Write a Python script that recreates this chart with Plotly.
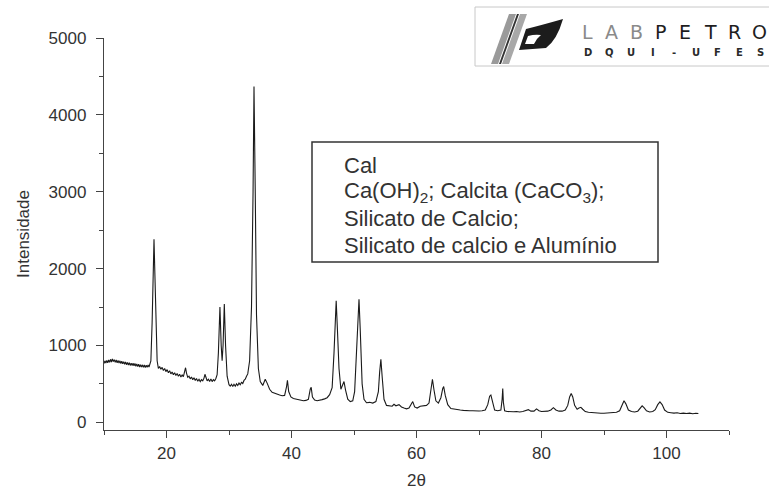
import plotly.graph_objects as go

# ---- data (2theta, intensity) ----
two_theta = [
    10.0, 10.15, 10.3, 10.45, 10.6, 10.75, 10.9, 11.05, 11.2, 11.35, 11.5, 11.65, 11.8, 11.95, 12.1,
    12.25, 12.4, 12.55, 12.7, 12.85, 13.0, 13.15, 13.3, 13.45, 13.6, 13.75, 13.9, 14.05, 14.2, 14.35,
    14.5, 14.65, 14.8, 14.95, 15.1, 15.25, 15.4, 15.55, 15.7, 15.85, 16.0, 16.15, 16.3, 16.45, 16.6,
    16.75, 16.9, 17.05, 17.2, 17.35, 17.5, 17.7, 17.85, 18.0, 18.15, 18.3, 18.5, 18.7, 18.9, 19.1,
    19.3, 19.5, 19.7, 19.9, 20.1, 20.3, 20.5, 20.7, 20.9, 21.1, 21.3, 21.5, 21.7, 21.9, 22.1,
    22.3, 22.5, 22.7, 22.9, 23.05, 23.2, 23.4, 23.6, 23.8, 24.0, 24.2, 24.4, 24.6, 24.8, 25.0,
    25.2, 25.4, 25.6, 25.8, 26.0, 26.15, 26.3, 26.5, 26.7, 26.9, 27.1, 27.3, 27.5, 27.7, 27.9,
    28.1, 28.3, 28.55, 28.75, 28.9, 29.05, 29.25, 29.45, 29.7, 30.0, 30.2, 30.4, 30.6, 30.8, 31.0,
    31.2, 31.4, 31.6, 31.8, 32.0, 32.2, 32.4, 32.6, 32.8, 33.0, 33.3, 33.6, 33.85, 34.0, 34.2,
    34.4, 34.7, 35.0, 35.4, 35.8, 36.1, 36.5, 36.9, 37.3, 37.7, 38.1, 38.5, 38.9, 39.2, 39.35,
    39.55, 39.9, 40.3, 40.7, 41.1, 41.5, 41.9, 42.3, 42.7, 43.0, 43.15, 43.35, 43.7, 44.1, 44.5,
    44.9, 45.3, 45.7, 46.1, 46.5, 46.8, 47.0, 47.15, 47.35, 47.6, 47.9, 48.2, 48.4, 48.65, 49.0,
    49.4, 49.8, 50.1, 50.4, 50.65, 50.8, 51.0, 51.3, 51.6, 52.0, 52.5, 53.0, 53.5, 53.9, 54.1,
    54.3, 54.5, 54.8, 55.2, 55.7, 56.1, 56.4, 56.7, 57.2, 57.6, 58.0, 58.4, 58.8, 59.2, 59.4,
    59.7, 60.1, 60.6, 61.1, 61.6, 62.0, 62.3, 62.55, 62.8, 63.1, 63.5, 63.9, 64.2, 64.35, 64.6,
    65.0, 65.5, 66.0, 66.5, 67.0, 67.5, 68.0, 68.5, 69.0, 69.5, 70.0, 70.5, 71.0, 71.4, 71.7,
    71.9, 72.2, 72.5, 73.0, 73.5, 73.7, 73.8, 73.9, 74.1, 74.5, 75.0, 75.5, 76.0, 76.5, 77.0,
    77.5, 77.9, 78.3, 78.8, 79.2, 79.6, 80.0, 80.5, 81.0, 81.5, 81.9, 82.3, 82.8, 83.3, 83.8,
    84.2, 84.5, 84.75, 85.0, 85.3, 85.7, 86.0, 86.3, 86.6, 87.0, 87.5, 88.0, 88.5, 89.0, 89.5,
    90.0, 90.5, 91.0, 91.5, 92.0, 92.5, 92.9, 93.2, 93.5, 93.9, 94.4, 94.9, 95.4, 95.8, 96.1,
    96.4, 96.8, 97.3, 97.8, 98.2, 98.6, 98.95, 99.3, 99.7, 100.2, 100.7, 101.2, 101.7, 102.2, 102.7,
    103.2, 103.7, 104.2, 104.7, 105.1,
]
intensity = [
    765, 800, 770, 805, 775, 810, 780, 820, 785, 825, 790, 815, 780, 810, 775,
    805, 770, 800, 765, 795, 760, 790, 755, 785, 750, 780, 745, 775, 740, 770,
    738, 768, 735, 765, 730, 760, 725, 755, 720, 750, 718, 748, 715, 745, 712,
    742, 715, 745, 720, 750, 800, 1300, 2000, 2380, 1900, 1200, 800, 700, 725, 690,
    715, 675, 700, 660, 685, 645, 670, 630, 655, 620, 645, 610, 635, 600, 625,
    590, 615, 595, 680, 710, 640, 585, 600, 565, 590, 555, 580, 545, 570, 535,
    560, 530, 555, 540, 575, 625, 590, 540, 560, 530, 565, 530, 555, 540, 570,
    620, 900, 1500, 1000, 800, 1000, 1540, 1000, 600, 490, 470, 495, 465, 495, 470,
    500, 478, 510, 490, 520, 505, 545, 560, 600, 630, 800, 1500, 3000, 4370, 3000,
    1400, 700, 530, 480, 560, 510, 430, 390, 375, 360, 355, 345, 350, 460, 545,
    400, 330, 310, 300, 295, 285, 280, 285, 300, 430, 455, 330, 290, 280, 285,
    295, 305, 320, 360, 450, 900, 1400, 1580, 1200, 700, 430, 480, 530, 420, 300,
    270, 280, 400, 900, 1400, 1600, 1200, 500, 300, 255, 260, 250, 270, 400, 650,
    820, 600, 300, 220, 215, 210, 235, 215, 230, 200, 185, 175, 185, 240, 270,
    200, 185, 210, 215, 220, 250, 400, 560, 420, 280, 250, 320, 440, 465, 350,
    230, 180, 170, 165, 160, 155, 150, 150, 150, 145, 148, 150, 160, 230, 340,
    355, 260, 160, 150, 160, 300, 440, 260, 150, 140, 135, 138, 140, 135, 140,
    150, 165, 145, 145, 175, 150, 140, 138, 145, 160, 190, 160, 145, 145, 160,
    220, 330, 375, 330, 220, 170, 185, 195, 170, 140, 130, 125, 122, 120, 118,
    118, 120, 120, 125, 130, 150, 230, 280, 240, 160, 140, 135, 145, 190, 215,
    190, 150, 135, 140, 165, 230, 265, 230, 160, 130, 125, 120, 125, 115, 120,
    115, 120, 112, 118, 115,
]

x_tick_vals = [20, 40, 60, 80, 100]
y_tick_vals = [0, 1000, 2000, 3000, 4000, 5000]
legend_lines = [
    "Cal",
    "Ca(OH)<sub>2</sub>; Calcita (CaCO<sub>3</sub>);",
    "Silicato de Calcio;",
    "Silicato de calcio e Alumínio",
]
logo_top = ["L", "A", "B", "P", "E", "T", "R", "O"]
logo_bottom = ["D", "Q", "U", "I", "-", "U", "F", "E", "S"]

# ---- layout geometry (pixels) ----
W, H = 769, 490
ML, MR, MT, MB = 104, 40, 38, 60
PW, PH = W - ML - MR, H - MT - MB


def px(x):
    return (x - ML) / PW


def py(y):
    return (H - MB - y) / PH


FONT = "Liberation Sans, Arial, sans-serif"
TXT = "#333333"

fig = go.Figure()
fig.add_trace(go.Scatter(
    x=two_theta, y=intensity, mode="lines",
    line=dict(color="#1a1a1a", width=1.1),
    showlegend=False, hoverinfo="x+y",
))

shapes = []
annotations = []

# legend-like text box
shapes.append(dict(type="rect", xref="paper", yref="paper",
                   x0=px(312), x1=px(658), y0=py(262), y1=py(142),
                   line=dict(color="#333333", width=1.5), fillcolor="rgba(0,0,0,0)"))
for i, t in enumerate(legend_lines):
    annotations.append(dict(xref="paper", yref="paper", x=px(342), y=py(165 + i * 26.8),
                            text=t, showarrow=False, xanchor="left", yanchor="middle",
                            font=dict(family=FONT, size=22, color=TXT)))

# logo frame
shapes.append(dict(type="rect", xref="paper", yref="paper",
                   x0=px(475), x1=px(790), y0=py(66), y1=py(7),
                   line=dict(color="#c8c8c8", width=1), fillcolor="white", layer="below"))


def path(points, close=True):
    s = "M " + " L ".join(f"{px(a):.5f},{py(b):.5f}" for a, b in points)
    return s + (" Z" if close else "")


# logo stripes
shapes.append(dict(type="path", xref="paper", yref="paper",
                   path=path([(491, 64), (498, 64), (516, 14), (509, 14)]),
                   fillcolor="#9a9a9a", line=dict(width=0)))
shapes.append(dict(type="path", xref="paper", yref="paper",
                   path=path([(502, 64), (509, 64), (527, 14), (520, 14)]),
                   fillcolor="#a8a8a8", line=dict(width=0)))
shapes.append(dict(type="path", xref="paper", yref="paper",
                   path=path([(499, 64), (501, 64), (519, 14), (517, 14)]),
                   fillcolor="#333333", line=dict(width=0)))
# logo swoosh
sw = (f"M {px(519):.5f},{py(50):.5f} L {px(526):.5f},{py(29):.5f} "
      f"Q {px(542):.5f},{py(25):.5f} {px(563):.5f},{py(19):.5f} "
      f"Q {px(557):.5f},{py(40):.5f} {px(546):.5f},{py(48):.5f} Z")
shapes.append(dict(type="path", xref="paper", yref="paper", path=sw,
                   fillcolor="#1c1c1c", line=dict(width=0)))
notch = (f"M {px(525):.5f},{py(44):.5f} L {px(528):.5f},{py(36):.5f} "
         f"Q {px(535):.5f},{py(34):.5f} {px(541):.5f},{py(35):.5f} "
         f"Q {px(536):.5f},{py(39):.5f} {px(534):.5f},{py(44):.5f} Z")
shapes.append(dict(type="path", xref="paper", yref="paper", path=notch,
                   fillcolor="white", line=dict(width=0)))

for i, ch in enumerate(logo_top):
    annotations.append(dict(xref="paper", yref="paper", x=px(587 + i * 24.6), y=py(32),
                            text=ch, showarrow=False, xanchor="center", yanchor="middle",
                            font=dict(family="DejaVu Sans, sans-serif", size=19,
                                      color="#8a8a8a" if i < 3 else "#1e1e1e")))
for i, ch in enumerate(logo_bottom):
    annotations.append(dict(xref="paper", yref="paper", x=px(588 + i * 21.6), y=py(53),
                            text=f"<b>{ch}</b>", showarrow=False, xanchor="center",
                            yanchor="middle",
                            font=dict(family="DejaVu Sans, sans-serif", size=10, color="#2a2a2a")))

axis_common = dict(
    showline=True, linecolor="#444444", linewidth=1.3, mirror=False,
    ticks="outside", tickcolor="#444444", tickwidth=1.3, ticklen=7,
    showgrid=False, zeroline=False, automargin=False,
    tickfont=dict(family=FONT, size=17, color=TXT),
)

fig.update_layout(
    width=W, height=H,
    margin=dict(l=ML, r=MR, t=MT, b=MB, pad=0, autoexpand=False),
    paper_bgcolor="white", plot_bgcolor="white",
    shapes=shapes, annotations=annotations,
    xaxis=dict(
        range=[10, 110], tickvals=x_tick_vals,
        minor=dict(tickvals=[10, 30, 50, 70, 90, 110], ticks="outside", ticklen=4,
                   tickcolor="#444444", tickwidth=1.3, showgrid=False),
        title=dict(text="2θ", font=dict(family=FONT, size=17, color=TXT), standoff=15),
        **axis_common,
    ),
    yaxis=dict(
        range=[-100, 5000], tickvals=y_tick_vals,
        minor=dict(tickvals=[500, 1500, 2500, 3500, 4500], ticks="outside", ticklen=4,
                   tickcolor="#444444", tickwidth=1.3, showgrid=False),
        title=dict(text="Intensidade", font=dict(family=FONT, size=17, color=TXT), standoff=14),
        ticklabelstandoff=6,
        **axis_common,
    ),
)

fig.write_html("out.html")
